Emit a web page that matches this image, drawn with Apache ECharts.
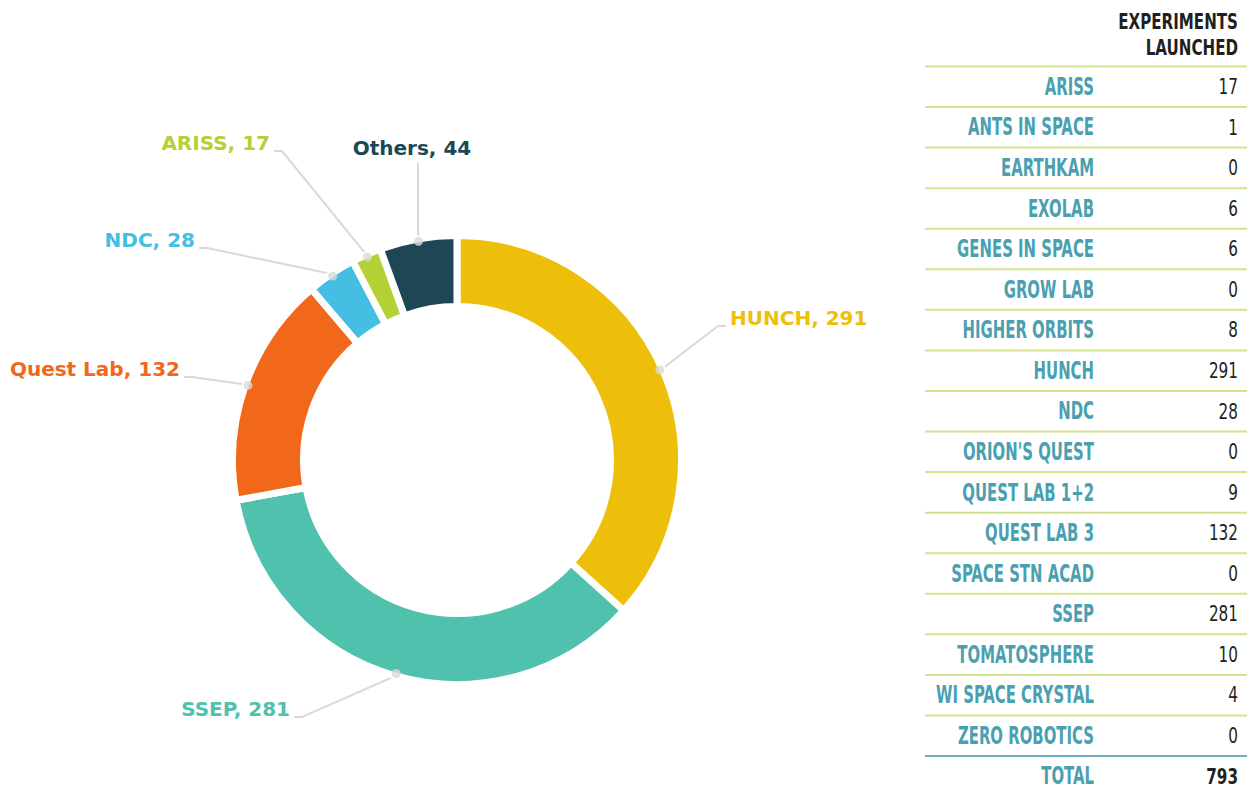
<!DOCTYPE html>
<html>
<head>
<meta charset="utf-8">
<title>Experiments launched</title>
<script src="https://cdn.jsdelivr.net/npm/echarts@6/dist/echarts.min.js"></script>
<style>
  html, body { margin: 0; padding: 0; background: #fff; }
  #main { width: 1247px; height: 789px; }
</style>
</head>
<body>
<div id="main"></div>
<script>
// donut slices (clockwise from 12 o'clock)
var sliceNames = ['HUNCH', 'SSEP', 'Quest Lab', 'NDC', 'ARISS', 'Others'];
var sliceValues = [291, 281, 132, 28, 17, 44];
var sliceColors = ['#EDBF0B', '#4FC1AD', '#F2681B', '#44BEE2', '#B3D135', '#1E4756'];

// table on the right
var programs = ['ARISS', 'ANTS IN SPACE', 'EARTHKAM', 'EXOLAB', 'GENES IN SPACE', 'GROW LAB',
  'HIGHER ORBITS', 'HUNCH', 'NDC', "ORION'S QUEST", 'QUEST LAB 1+2', 'QUEST LAB 3',
  'SPACE STN ACAD', 'SSEP', 'TOMATOSPHERE', 'WI SPACE CRYSTAL', 'ZERO ROBOTICS'];
var launched = [17, 1, 0, 6, 6, 0, 8, 291, 28, 0, 9, 132, 0, 281, 10, 4, 0];

// where each slice label sits
var labelSpots = {
  'HUNCH':     { x: 730, y: 318, align: 'left' },
  'SSEP':      { x: 290, y: 709, align: 'right' },
  'Quest Lab': { x: 180, y: 369, align: 'right' },
  'NDC':       { x: 195, y: 240, align: 'right' },
  'ARISS':     { x: 270, y: 143, align: 'right' },
  'Others':    { x: 412, y: 148, align: 'center' }
};

var sliceTotal = sliceValues.reduce(function (a, b) { return a + b; }, 0);
var tableTotal = launched.reduce(function (a, b) { return a + b; }, 0);

// middle of each slice, in value units, for the little dots on the label lines
var dotData = [];
var acc = 0;
sliceValues.forEach(function (v) {
  dotData.push([1, acc + v / 2]);
  acc += v;
});

var pieData = sliceNames.map(function (n, i) {
  return {
    name: n,
    value: sliceValues[i],
    itemStyle: { color: sliceColors[i] },
    label: { color: sliceColors[i] }
  };
});

// table drawing
var narrow = '"Liberation Sans Narrow", "DejaVu Sans Condensed", sans-serif';
var labelRight = 1094, valueRight = 1238;
var lineLeft = 925, lineRight = 1247;
var headLine = 66.5, rowH = 40.56;
var tableEls = [];

function cell(text, x, y, opts) {
  return {
    type: 'text', x: x, y: y, scaleX: opts.sx,
    style: {
      text: text, fontFamily: narrow, fontWeight: opts.weight, fontSize: opts.size,
      fill: opts.color, align: 'right', verticalAlign: 'middle'
    }
  };
}

var headStyle = { sx: 0.8, weight: 'bold', size: 21, color: '#231F20' };
var nameStyle = { sx: 0.69, weight: 'bold', size: 24, color: '#4A9FB0' };
var valStyle = { sx: 0.77, weight: 'normal', size: 22, color: '#231F20' };

tableEls.push(cell('EXPERIMENTS', valueRight, 21, headStyle));
tableEls.push(cell('LAUNCHED', valueRight, 47, headStyle));
tableEls.push({
  type: 'line', shape: { x1: lineLeft, y1: headLine, x2: lineRight, y2: headLine },
  style: { stroke: '#D5E38C', lineWidth: 2 }
});

programs.forEach(function (p, i) {
  var cy = headLine + (i + 0.5) * rowH;
  var ly = headLine + (i + 1) * rowH;
  tableEls.push(cell(p, labelRight, cy, nameStyle));
  tableEls.push(cell(String(launched[i]), valueRight, cy, valStyle));
  tableEls.push({
    type: 'line', shape: { x1: lineLeft, y1: ly, x2: lineRight, y2: ly },
    style: { stroke: i === programs.length - 1 ? '#6DB4C2' : '#D5E38C', lineWidth: 2 }
  });
});

var totalY = headLine + (programs.length + 0.5) * rowH;
tableEls.push(cell('TOTAL', labelRight, totalY, nameStyle));
tableEls.push(cell(String(tableTotal), valueRight, totalY, { sx: 0.77, weight: 'bold', size: 22, color: '#231F20' }));

var chart = echarts.init(document.getElementById('main'), null, { renderer: 'svg' });

var option = {
  animation: false,
  backgroundColor: '#fff',
  polar: { center: [457, 460], radius: 222 },
  angleAxis: { type: 'value', min: 0, max: sliceTotal, startAngle: 90, clockwise: true, show: false },
  radiusAxis: { type: 'value', min: 0, max: 1, show: false },
  graphic: { elements: tableEls },
  series: [
    {
      type: 'pie',
      center: [457, 460],
      radius: [153.5, 224.5],
      startAngle: 90,
      clockwise: true,
      avoidLabelOverlap: false,
      silent: true,
      itemStyle: { borderColor: '#fff', borderWidth: 7 },
      label: {
        show: true,
        position: 'outside',
        formatter: '{b}, {c}',
        fontFamily: '"DejaVu Sans", sans-serif',
        fontWeight: 'bold',
        fontSize: 20
      },
      labelLine: {
        show: true,
        length: 20,
        length2: 10,
        lineStyle: { color: '#D9D9D9', width: 2 }
      },
      labelLayout: function (p) {
        var spot = labelSpots[sliceNames[p.dataIndex]];
        var out = { x: spot.x, y: spot.y, align: spot.align, verticalAlign: 'middle' };
        var a = p.labelLinePoints && p.labelLinePoints[0];
        if (a) {
          if (spot.align === 'center') {
            out.labelLinePoints = [a, [a[0], spot.y + 15], [a[0], spot.y + 15]];
          } else {
            var s = spot.align === 'left' ? -1 : 1;
            var ex = spot.x + s * 4, ey = spot.y + 8;
            out.labelLinePoints = [a, [ex + s * 8, ey], [ex, ey]];
          }
        }
        return out;
      },
      data: pieData
    },
    {
      type: 'scatter',
      coordinateSystem: 'polar',
      symbolSize: 9,
      silent: true,
      itemStyle: { color: '#D9D9D9' },
      z: 5,
      data: dotData
    }
  ]
};

chart.setOption(option);
</script>
</body>
</html>
